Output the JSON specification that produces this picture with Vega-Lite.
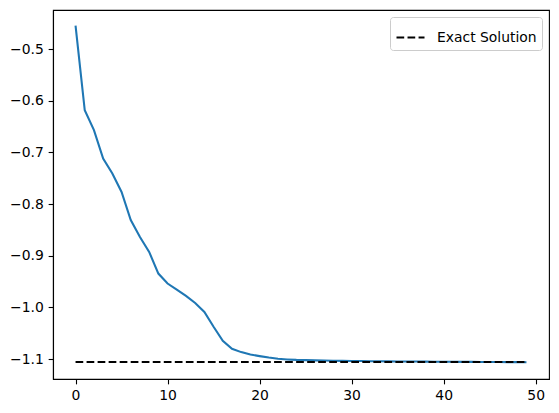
{
  "$schema": "https://vega.github.io/schema/vega-lite/v6.json",
  "width": 496,
  "height": 369,
  "autosize": {"type": "none"},
  "padding": {"left": 53, "top": 10, "right": 10, "bottom": 34},
  "datasets": {
    "energy": [
      {"iter": 0, "value": -0.4547},
      {"iter": 1, "value": -0.6186},
      {"iter": 2, "value": -0.6570},
      {"iter": 3, "value": -0.7120},
      {"iter": 4, "value": -0.7410},
      {"iter": 5, "value": -0.7766},
      {"iter": 6, "value": -0.8310},
      {"iter": 7, "value": -0.8636},
      {"iter": 8, "value": -0.8926},
      {"iter": 9, "value": -0.9345},
      {"iter": 10, "value": -0.9538},
      {"iter": 11, "value": -0.9654},
      {"iter": 12, "value": -0.9778},
      {"iter": 13, "value": -0.9913},
      {"iter": 14, "value": -1.0087},
      {"iter": 15, "value": -1.0375},
      {"iter": 16, "value": -1.0646},
      {"iter": 17, "value": -1.0801},
      {"iter": 18, "value": -1.0865},
      {"iter": 19, "value": -1.0910},
      {"iter": 20, "value": -1.0942},
      {"iter": 21, "value": -1.0970},
      {"iter": 22, "value": -1.0994},
      {"iter": 23, "value": -1.1006},
      {"iter": 24, "value": -1.1015},
      {"iter": 25, "value": -1.1020},
      {"iter": 26, "value": -1.1025},
      {"iter": 27, "value": -1.1028},
      {"iter": 28, "value": -1.1031},
      {"iter": 29, "value": -1.1034},
      {"iter": 30, "value": -1.1036},
      {"iter": 31, "value": -1.1038},
      {"iter": 32, "value": -1.1040},
      {"iter": 33, "value": -1.1042},
      {"iter": 34, "value": -1.1044},
      {"iter": 35, "value": -1.1046},
      {"iter": 36, "value": -1.1047},
      {"iter": 37, "value": -1.1048},
      {"iter": 38, "value": -1.1049},
      {"iter": 39, "value": -1.1050},
      {"iter": 40, "value": -1.1051},
      {"iter": 41, "value": -1.1052},
      {"iter": 42, "value": -1.1053},
      {"iter": 43, "value": -1.1054},
      {"iter": 44, "value": -1.1055},
      {"iter": 45, "value": -1.1056},
      {"iter": 46, "value": -1.1057},
      {"iter": 47, "value": -1.1058},
      {"iter": 48, "value": -1.1059},
      {"iter": 49, "value": -1.1060}
    ],
    "exact": [
      {"iter": 0, "value": -1.1055, "label": "Exact Solution"},
      {"iter": 49, "value": -1.1055, "label": "Exact Solution"}
    ]
  },
  "layer": [
    {
      "data": {"name": "energy"},
      "mark": {"type": "line", "color": "#1f77b4", "strokeWidth": 2.08, "clip": true},
      "encoding": {
        "x": {
          "field": "iter",
          "type": "quantitative",
          "scale": {"domain": [-2.45, 51.45], "nice": false, "zero": false},
          "axis": {"values": [0, 10, 20, 30, 40, 50], "title": null, "format": "d"}
        },
        "y": {
          "field": "value",
          "type": "quantitative",
          "scale": {"domain": [-1.1385, -0.4245], "nice": false, "zero": false},
          "axis": {"values": [-1.1, -1.0, -0.9, -0.8, -0.7, -0.6, -0.5], "title": null, "format": ".1f"}
        }
      }
    },
    {
      "data": {"name": "exact"},
      "mark": {"type": "line", "strokeWidth": 2.08, "strokeDash": [7.7, 3.33]},
      "encoding": {
        "x": {"field": "iter", "type": "quantitative"},
        "y": {"field": "value", "type": "quantitative"},
        "color": {
          "field": "label",
          "type": "nominal",
          "scale": {"range": ["#000000"]},
          "legend": {
            "title": null,
            "orient": "top-right",
            "offset": 7,
            "symbolType": "stroke",
            "symbolDash": [7.7, 3.33],
            "symbolStrokeWidth": 2.08,
            "symbolSize": 784,
            "labelOffset": 11,
            "labelFontSize": 13.9,
            "labelFont": "DejaVu Sans",
            "labelColor": "#000000",
            "fillColor": "#ffffff",
            "strokeColor": "#cccccc",
            "cornerRadius": 3,
            "padding": 5
          }
        }
      }
    }
  ],
  "config": {
    "font": "DejaVu Sans",
    "view": {"stroke": "#000000", "strokeWidth": 1.1},
    "axis": {
      "grid": false,
      "domainColor": "#000000",
      "domainWidth": 1.1,
      "tickColor": "#000000",
      "tickWidth": 1.1,
      "tickSize": 4.86,
      "labelFont": "DejaVu Sans",
      "labelFontSize": 13.9,
      "labelColor": "#000000",
      "labelPadding": 4.86
    }
  }
}
